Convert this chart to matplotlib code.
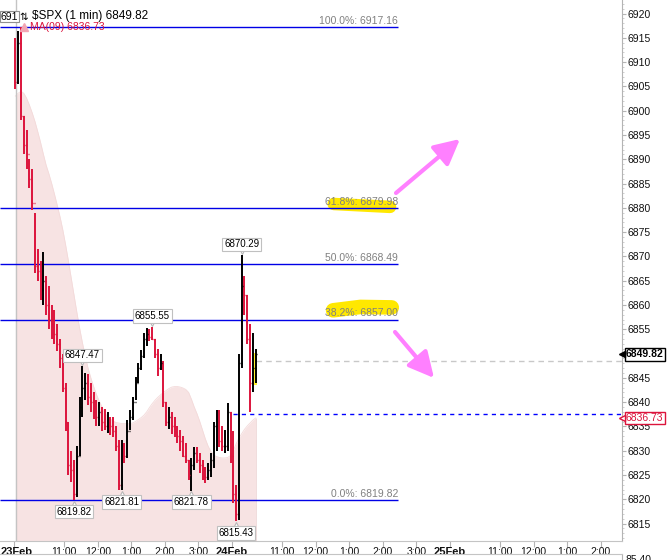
import matplotlib
matplotlib.use('Agg')
import matplotlib.pyplot as plt
import matplotlib.transforms as mtrans
from matplotlib.patches import Rectangle
import numpy as np

plt.rcParams['font.family'] = ['Liberation Sans', 'DejaVu Sans']

# ---------------- data ----------------
symbol = "$SPX"
interval = "1 min"
last_price = 6849.82
ma_name = "MA(09)"
ma_last = 6836.73
first_open = 6913.0
bar_minutes = 5          # bars sampled every 5 minutes from 23Feb 9:30

high = [6915, 6916.5, 6917.16, 6899, 6896, 6890, 6888, 6879, 6871.5, 6869,
        6871, 6866, 6864, 6860, 6859, 6856, 6853, 6850, 6844, 6836,
        6830, 6828, 6831, 6841, 6847.47, 6846, 6845.8, 6844, 6842, 6840.5,
        6840, 6839, 6838.5, 6838, 6837, 6837, 6835, 6832.2, 6832.2, 6831.6,
        6836.3, 6838.4, 6841, 6845.2, 6848, 6850.7, 6854.2, 6855.3, 6855, 6855.55,
        6853, 6851, 6850, 6848.5, 6840, 6839, 6838, 6837, 6835, 6834.3,
        6833, 6831.6, 6828, 6828.5, 6830.8, 6830.8, 6829.5, 6828, 6826.6, 6827.4,
        6829.5, 6836, 6838.4, 6838.4, 6835, 6834.3, 6839.8, 6838, 6834, 6823,
        6850, 6870.29, 6866, 6862, 6856, 6854.2, 6851]
low = [6904.5, 6905.5, 6898, 6891, 6888, 6884, 6879.5, 6866.5, 6865, 6861,
       6860, 6858, 6855, 6853, 6852, 6850.5, 6847, 6842, 6834, 6825,
       6823.5, 6819.82, 6820.5, 6829, 6837, 6840.5, 6839.5, 6838, 6836.5, 6835,
       6835, 6834, 6834.3, 6833.6, 6833.3, 6832.8, 6830, 6822, 6821.81, 6827.4,
       6828.5, 6834.3, 6836.3, 6840.4, 6844, 6846.6, 6849, 6851.6, 6852.6, 6852.7,
       6849, 6845.3, 6846.6, 6839, 6835, 6834.5, 6833.5, 6832.8, 6831.6, 6830,
       6828.7, 6827.4, 6824, 6821.78, 6826, 6827.4, 6825.5, 6824, 6823.3, 6824,
       6824.6, 6826.5, 6830, 6830.8, 6830, 6829.5, 6830, 6827.4, 6819.2, 6815.43,
       6815.7, 6847, 6858, 6852, 6838, 6842, 6844]
close = [6906, 6914, 6899, 6893, 6891, 6886, 6881, 6868, 6867, 6863,
         6865, 6860, 6857, 6856, 6854, 6852, 6849, 6843, 6836, 6827,
         6826, 6821, 6829, 6839, 6843, 6844, 6841, 6840, 6838, 6837,
         6838, 6836, 6835, 6836, 6835, 6834, 6831, 6823, 6831, 6829,
         6834, 6837, 6840, 6844, 6847, 6849.5, 6853, 6854, 6853.5, 6853,
         6850, 6847, 6848, 6840, 6836, 6837, 6835, 6834, 6833, 6832,
         6829, 6828, 6825, 6827, 6829.5, 6828, 6827, 6825, 6824.5, 6826,
         6828, 6835, 6836, 6832, 6831, 6831, 6838, 6829, 6821, 6817,
         6848, 6864, 6862, 6853, 6844, 6847, 6849.82]
ma = [6903, 6903.6, 6904, 6903.6, 6902.6, 6901.2, 6899.6, 6897.8, 6895.7, 6893.5,
      6891.1, 6888.8, 6887, 6885, 6882.8, 6880.5, 6878.1, 6875.4, 6872.3, 6869,
      6865.5, 6862, 6858.5, 6855.2, 6852.2, 6849.5, 6847, 6845, 6843.2, 6841.6,
      6840.2, 6839, 6837.8, 6837, 6836.5, 6836.1, 6835.8, 6835.7, 6835.6, 6835.6,
      6835.6, 6835.6, 6835.7, 6836, 6836.4, 6836.8, 6837.3, 6838, 6838.9, 6839.7,
      6840.4, 6841, 6841.5, 6842, 6842.4, 6842.8, 6843.1, 6843.2, 6843.2, 6843.1,
      6842.9, 6842.6, 6842, 6840.6, 6839, 6837.6, 6836, 6834.2, 6832.4, 6830.9,
      6829.8, 6829.1, 6828.8, 6828.6, 6828.5, 6828.5, 6828.6, 6829, 6830, 6831.4,
      6832.6, 6833.5, 6834.4, 6835.1, 6835.7, 6836.3, 6836.73]

fib_pcts = ["100.0%", "61.8%", "50.0%", "38.2%", "0.0%"]
fib_vals = [6917.16, 6879.98, 6868.49, 6857.00, 6819.82]

pivot_bars = [81, 49, 24, 21, 38, 63, 79]
pivot_vals = [6870.29, 6855.55, 6847.47, 6819.82, 6821.81, 6821.78, 6815.43]
pivot_side = ['top', 'top', 'top', 'bottom', 'bottom', 'bottom', 'bottom']

gray_level = 6848.5
blue_level = 6837.6
blue_start_bar = 78

y_ticks = list(range(6815, 6921, 5))
day_labels = ["23Feb", "24Feb", "25Feb"]
hour_labels = ["11:00", "12:00", "1:00", "2:00", "3:00"]
hour_offsets = [90, 150, 210, 270, 330]
session_len = 390
lower_value = "85.40"

# ---------------- figure ----------------
W, H = 672, 560
fig = plt.figure(figsize=(W / 100, H / 100), dpi=100)
AX_R, AX_B = 622, 541
ax = fig.add_axes([0, (H - AX_B) / H, AX_R / W, AX_B / H])
XMIN, XMAX = -25, 1088
YMIN, YMAX = 6811.4, 6922.8
ax.set_xlim(XMIN, XMAX)
ax.set_ylim(YMIN, YMAX)

RED = '#dc143c'
t = np.arange(len(close)) * bar_minutes + bar_minutes / 2

# MA area
ax.fill_between(t, ma, YMIN, color='#f7e3e3', lw=0, zorder=1)
ax.plot(t, ma, color='#f3dada', lw=0.6, zorder=1)
ax.vlines(t[-1], YMIN, ma[-1], color='#eed8d8', lw=0.6, zorder=1)

# day separator
ax.axvline(3, color='#c4c4c4', lw=1, zorder=1)

# fib levels
fib_end = 687
ax.hlines(fib_vals, XMIN, fib_end, colors='#0000e6', lw=1, zorder=3)

# yellow highlights (behind text)
ax.plot([572, 673], [6880.8, 6880.2], color='#ffe800', lw=9,
        solid_capstyle='round', zorder=2)
ax.plot([571, 620, 676], [6858.9, 6859.6, 6859.5], color='#ffe800', lw=10.5,
        solid_capstyle='round', zorder=2)

off_up = mtrans.offset_copy(ax.transData, fig=fig, x=0, y=2.2, units='points')
for p, v in zip(fib_pcts, fib_vals):
    ax.text(fib_end, v, f"{p}: {v:.2f}", ha='right', va='baseline',
            color='#808080', fontsize=7.5, transform=off_up, zorder=6)

# dashed levels
ax.hlines(gray_level, t[-1], XMAX, colors='#c8c8c8', linestyles=(0, (4, 3)), lw=1, zorder=2)
ax.hlines(blue_level, t[blue_start_bar], XMAX, colors='#0000ff', linestyles=(0, (3, 3)), lw=1, zorder=2)

# last-bar highlight
ax.add_patch(Rectangle((t[-2] - 1, 6843.5), 8, 6.6, color='#fff030', lw=0, zorder=3))

# bars
opens = [first_open] + close[:-1]
cols = ['black' if c >= o else RED for o, c in zip(opens, close)]
ax.vlines(t, low, high, colors=cols, lw=1.4, zorder=4)
ax.hlines(opens, t - 1.6, t, colors=cols, lw=1, zorder=4)
ax.hlines(close, t, t + 1.6, colors=cols, lw=1, zorder=4)

# pivot labels
for k, v, side in zip(pivot_bars, pivot_vals, pivot_side):
    s = 1 if side == 'top' else -1
    tr_txt = mtrans.offset_copy(ax.transData, fig=fig, x=0, y=s * (7.6 if s > 0 else 8.3), units='points')
    tr_mk = mtrans.offset_copy(ax.transData, fig=fig, x=0, y=s * 2.6, units='points')
    ax.plot([t[k]], [v], marker='v' if s > 0 else '^', ms=5, mfc='white',
            mec='#b8b8b8', mew=0.8, transform=tr_mk, zorder=7, clip_on=False)
    ax.text(t[k], v, f"{v:.2f}", ha='center', va='center', fontsize=7,
            color='black', transform=tr_txt, zorder=8,
            bbox=dict(boxstyle='square,pad=0.18', fc='white', ec='#c0c0c0', lw=0.8))

# arrows (annotations)
apr = dict(arrowstyle='-|>,head_length=0.55,head_width=0.28', color='#ff80ff',
           lw=3, mutation_scale=28, shrinkA=0, shrinkB=0)
ax.annotate('', xy=(460 / AX_R, 1 - 139 / AX_B), xytext=(396 / AX_R, 1 - 193 / AX_B),
            xycoords='axes fraction', textcoords='axes fraction', arrowprops=apr, zorder=9)
ax.annotate('', xy=(434 / AX_R, 1 - 378 / AX_B), xytext=(395 / AX_R, 1 - 332 / AX_B),
            xycoords='axes fraction', textcoords='axes fraction', arrowprops=apr, zorder=9)

# axes styling
for sp in ['top', 'left']:
    ax.spines[sp].set_visible(False)
ax.spines['right'].set_color('#b4b4b4')
ax.spines['right'].set_linestyle((0, (1, 1)))
ax.spines['bottom'].set_color('#c4c4c4')
ax.yaxis.tick_right()
ax.set_yticks(y_ticks)
# the 6850 label sits fully under the last-price tag, as in the reference
ax.set_yticklabels(['' if v == 6850 else str(v) for v in y_ticks])
ax.set_yticks(np.arange(6812, 6923, 1), minor=True)
ax.tick_params(axis='y', which='major', length=3, width=0.8, color='#b4b4b4',
               labelsize=7.5, pad=1, labelcolor='#111111')
ax.tick_params(axis='y', which='minor', length=1.5, width=0.6, color='#c8c8c8')

xt, xl, bold = [], [], []
for d, dl in enumerate(day_labels):
    base = d * session_len
    xt.append(base); xl.append(dl); bold.append(True)
    for off, hl in zip(hour_offsets, hour_labels):
        if base + off < XMAX - 20:
            xt.append(base + off); xl.append(hl); bold.append(False)
ax.set_xticks(xt)
ax.set_xticklabels(xl)
ax.tick_params(axis='x', length=4, width=0.8, color='#b4b4b4', labelsize=7.5, pad=0,
               labelcolor='#111111')
for lbl, b, x in zip(ax.get_xticklabels(), bold, xt):
    if b:
        lbl.set_fontweight('bold')
        lbl.set_fontsize(8)
    if x == 0:
        lbl.set_transform(lbl.get_transform() + mtrans.ScaledTranslation(3 / 100, 0, fig.dpi_scale_trans))

# right-side value tags
tr_tag = mtrans.blended_transform_factory(ax.transAxes, ax.transData)
tr_tag = tr_tag + mtrans.ScaledTranslation(4 / 100, 0, fig.dpi_scale_trans)
ax.text(1.0, last_price, f"{last_price:.2f}", transform=tr_tag, ha='left', va='center',
        fontsize=7.5, fontweight='bold', color='black', clip_on=False, zorder=10,
        bbox=dict(boxstyle='square,pad=0.12', fc='white', ec='black', lw=1))
ax.text(1.0, ma_last, f"{ma_last:.2f}", transform=tr_tag, ha='left', va='center',
        fontsize=7.5, color=RED, clip_on=False, zorder=10,
        bbox=dict(boxstyle='square,pad=0.12', fc='white', ec=RED, lw=1))
tr_tri = mtrans.blended_transform_factory(ax.transAxes, ax.transData)
ax.plot([1.0], [last_price], marker='<', ms=4, color='black', transform=tr_tri, clip_on=False, zorder=11)
ax.plot([1.0], [ma_last], marker='<', ms=4, mfc='white', mec=RED, transform=tr_tri, clip_on=False, zorder=11)

# header / legend
def fx(px):
    return px / W

def fy(py):
    return 1 - py / H

fig.text(fx(0.5), fy(16.5), "691", fontsize=7.5, va='center', ha='left', color='black',
         bbox=dict(boxstyle='square,pad=0.05', fc='white', ec='#909090', lw=0.8), zorder=20)
fig.text(fx(19.5), fy(16.5), "\u21c5", fontsize=7.5, va='center', ha='left', family='DejaVu Sans', zorder=20)
fig.text(fx(32), fy(16.5), f"\\{symbol} ({interval}) {last_price:.2f}", fontsize=8.5,
         va='center', ha='left', color='black', zorder=20)
fig.lines.append(plt.Line2D([fx(24)], [fy(27)], marker='^', ms=6, color='#f2a6b4',
                            transform=fig.transFigure, figure=fig))
fig.text(fx(30), fy(27), f"{ma_name} {ma_last:.2f}", fontsize=7.5, va='center', ha='left',
         color=RED, zorder=20)

# lower panel (cut off by the image edge)
ax2 = fig.add_axes([0, 0, AX_R / W, 6 / H])
ax2.set_xticks([]); ax2.set_yticks([])
ax2.spines['left'].set_visible(False)
ax2.spines['bottom'].set_visible(False)
ax2.spines['top'].set_color('#c4c4c4')
ax2.spines['right'].set_color('#b4b4b4')
ax2.patch.set_alpha(0)
fig.text(fx(625), fy(555), lower_value, fontsize=7.5, va='top', ha='left', color='#111111')

fig.savefig('out.png', dpi=100)
